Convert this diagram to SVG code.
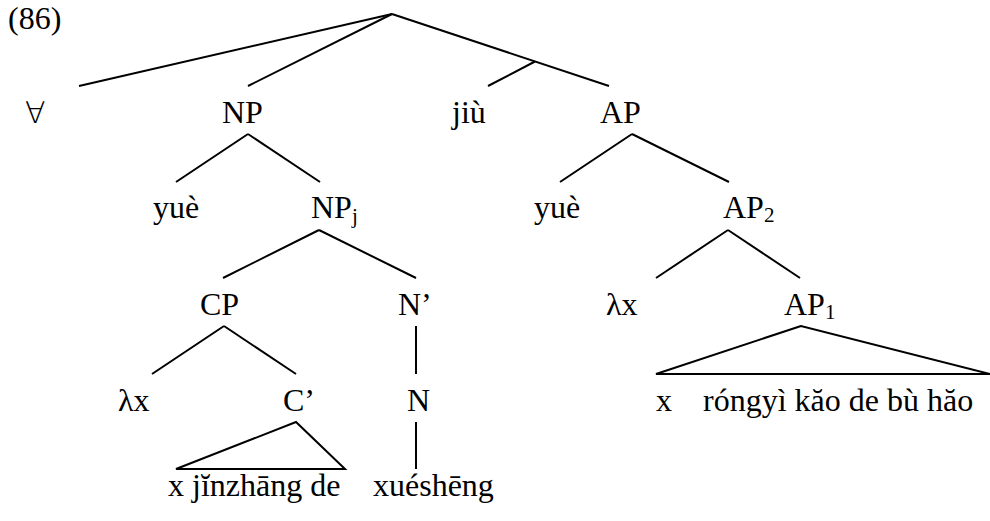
<svg xmlns="http://www.w3.org/2000/svg" width="990" height="521" viewBox="0 0 990 521">
<style>
text{font-family:"Liberation Serif","Times New Roman",serif;font-size:32px;fill:#000}
.sub{font-size:21px}
.sym{font-family:"DejaVu Sans",sans-serif;font-weight:200;font-size:30px}
.e{stroke:#000;stroke-width:2;fill:none;stroke-linecap:butt;stroke-linejoin:miter}
</style>
<rect width="990" height="521" fill="#fff"/>
<text x="8" y="28.5">(86)</text>
<g id="connectors" class="e">
<line x1="392" y1="14" x2="79" y2="86"/>
<line x1="392" y1="14" x2="248" y2="86"/>
<line x1="392" y1="14" x2="609" y2="86"/>
<line x1="535" y1="61.5" x2="488" y2="86"/>
<line x1="248" y1="134" x2="176" y2="182"/>
<line x1="248" y1="134" x2="320" y2="182"/>
<line x1="632" y1="134" x2="560" y2="182"/>
<line x1="632" y1="134" x2="729" y2="182"/>
<line x1="319" y1="230" x2="223" y2="278"/>
<line x1="319" y1="230" x2="416" y2="278"/>
<line x1="728" y1="230" x2="656" y2="278"/>
<line x1="728" y1="230" x2="800" y2="278"/>
<line x1="224" y1="326" x2="152" y2="374"/>
<line x1="224" y1="326" x2="296" y2="374"/>
<line x1="416" y1="326" x2="416" y2="374"/>
<polygon points="801,326 656,374 990,374"/>
<polygon points="296,422 176,469 345,469"/>
<line x1="416" y1="422" x2="416" y2="469"/>
</g>
<g id="forall"><text class="sym" x="25" y="122.5">∀</text></g>
<g id="np"><text x="222" y="122.5">NP</text></g>
<g id="jiu"><text x="452" y="122.5">jiù</text></g>
<g id="ap"><text x="600" y="122.5">AP</text></g>
<g id="yue1"><text x="153" y="218">yuè</text></g>
<g id="npj"><text x="311" y="218">NP<tspan class="sub" dy="4.5">j</tspan></text></g>
<g id="yue2"><text x="534" y="218">yuè</text></g>
<g id="ap2"><text x="723" y="218">AP<tspan class="sub" dy="4">2</tspan></text></g>
<g id="cp"><text x="200" y="315">CP</text></g>
<g id="nbar"><text x="398" y="315">N’</text></g>
<g id="lambda2"><text x="606" y="315">λx</text></g>
<g id="ap1"><text x="784" y="315">AP<tspan class="sub" dy="4">1</tspan></text></g>
<g id="lambda1"><text x="118" y="411">λx</text></g>
<g id="cbar"><text x="283" y="411">C’</text></g>
<g id="n"><text x="407" y="411">N</text></g>
<g id="ap1-yield"><text x="656" y="411">x<tspan x="703">róngyì kăo de bù hăo</tspan></text></g>
<g id="cbar-yield"><text x="168" y="496">x jĭnzhāng de</text></g>
<g id="n-yield"><text x="373" y="496">xuéshēng</text></g>
</svg>
